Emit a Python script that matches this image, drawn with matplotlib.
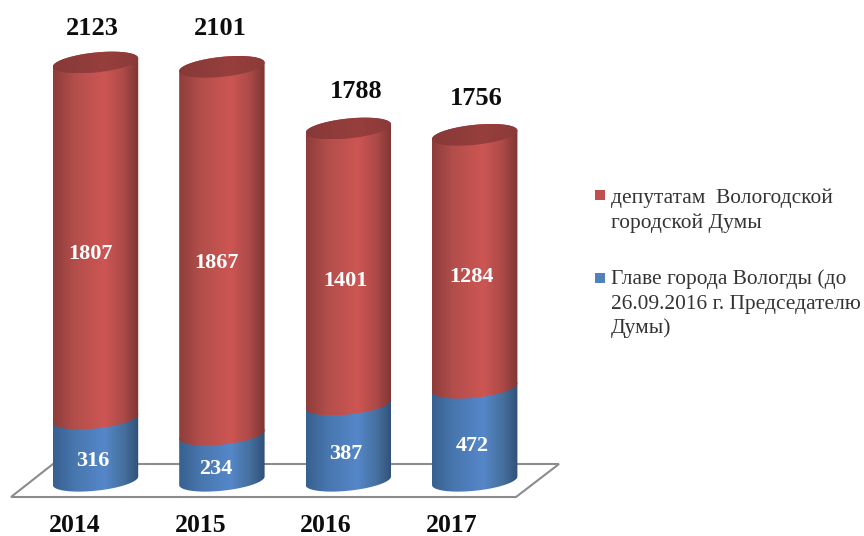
#!/usr/bin/env python
import numpy as np
import matplotlib
matplotlib.use("Agg")
import matplotlib.pyplot as plt
from matplotlib.colors import LinearSegmentedColormap
from matplotlib.patches import Polygon, Rectangle

years = ["2014", "2015", "2016", "2017"]
glava = [316, 234, 387, 472]
deputaty = [1807, 1867, 1401, 1284]
totals = [2123, 2101, 1788, 1756]

W, H = 864, 536
DPI = 100
STEP = 126.4       # px between bars
X0 = 95.5          # px centre of first bar
Y0 = 480.75        # px of value 0
K = 0.197          # px per unit
HALF = 42.7 / STEP # half width of a cylinder in x units
SHEAR = 4.25 / K
B = 10.0 / K

red_cm = LinearSegmentedColormap.from_list("r", [(0, "#8e3d3b"), (0.25, "#b34e4b"), (0.6, "#cd5653"), (0.82, "#ad4a48"), (1, "#7e3634")])
blue_cm = LinearSegmentedColormap.from_list("b", [(0, "#36608f"), (0.25, "#4876ae"), (0.6, "#5587c9"), (0.82, "#46719f"), (1, "#2f5179")])
cap_cm = LinearSegmentedColormap.from_list("c", [(0, "#863938"), (0.6, "#973f3d"), (1, "#8b3a39")])
grad = np.linspace(0, 1, 128).reshape(1, -1)

fig = plt.figure(figsize=(W / DPI, H / DPI), dpi=DPI)
ax = fig.add_axes([0, 0, 1, 1])
ax.axis("off")
plt.rcParams["font.family"] = "Liberation Serif"


def px(x, y):
    return (x - X0) / STEP, (Y0 - y) / K


def arc(i, v, t0, t1):
    t = np.linspace(t0, t1, 60)
    return np.c_[i + HALF * np.cos(t), v + SHEAR * np.cos(t) + B * np.sin(t)]


def fill(poly, i, cmap, z):
    ymin, ymax = poly[:, 1].min(), poly[:, 1].max()
    im = ax.imshow(grad, cmap=cmap, aspect="auto", zorder=z, vmin=0, vmax=1,
                   extent=(i - HALF, i + HALF, ymin, ymax), interpolation="bilinear")
    im.set_clip_path(Polygon(poly, closed=True, transform=ax.transData))


# floor
floor = [px(11, 497), px(516, 497), px(559, 464), px(53, 464)]
ax.add_patch(Polygon(floor, closed=True, facecolor="white", edgecolor="#8c8c8c", linewidth=1.5, zorder=1))

# label nudges, px
blue_dx = [-3, -6, -3, -2]
blue_dy = [-11, -11, -11, -12]
red_dx = [-5, -5, -3, -3]
red_dy = [-13, -12, -14, -16]

for i in range(len(years)):
    g, d = glava[i], deputaty[i]
    # blue part, front arc below, back arc on top
    poly = np.r_[arc(i, 0, np.pi, 2 * np.pi), arc(i, g, 0, np.pi)]
    fill(poly, i, blue_cm, 2 + i * 0.1)
    top = g + d
    poly = np.r_[arc(i, g, np.pi, 2 * np.pi), arc(i, top, 0, np.pi)]
    fill(poly, i, red_cm, 2.01 + i * 0.1)
    poly = arc(i, top, 0, 2 * np.pi)
    fill(poly, i, cap_cm, 2.02 + i * 0.1)

    ax.annotate(str(g), (i, g / 2), xytext=(blue_dx[i], blue_dy[i]), textcoords="offset pixels", ha="center", va="center",
                color="white", fontsize=16, fontweight="bold", zorder=5)
    ax.annotate(str(d), (i, g + d / 2), xytext=(red_dx[i], red_dy[i]), textcoords="offset pixels", ha="center", va="center",
                color="white", fontsize=16, fontweight="bold", zorder=5)

total_dx = [-3.5, -2, 8, 2]
total_dy = [34, 38, 37, 36]
for i, t in enumerate(totals):
    ax.annotate(str(t), (i, t), xytext=(total_dx[i], total_dy[i]), textcoords="offset pixels", ha="center", va="center",
                color="#0d0d0d", fontsize=19, fontweight="bold", zorder=5)

for i, y in enumerate(years):
    x, yy = px(75 + 125.5 * i, 525)
    ax.text(x, yy, y, ha="center", va="center", color="#0d0d0d", fontsize=18.5, fontweight="bold")

ax.set_xlim(px(0, 0)[0], px(W, 0)[0])
ax.set_ylim(px(0, H)[1], px(0, 0)[1])

# legend
legend_items = [
    ("#c0504d", 195, ["депутатам  Вологодской", "городской Думы"], [198, 223]),
    ("#4f81bd", 278, ["Главе города Вологды (до", "26.09.2016 г. Председателю", "Думы)"], [279, 304, 328]),
]
for color, sy, lines, ys in legend_items:
    fig.patches.append(Rectangle((595 / W, 1 - (sy + 5) / H), 10 / W, 10 / H, transform=fig.transFigure,
                                 facecolor=color, edgecolor="none"))
    for line, ly in zip(lines, ys):
        fig.text(611 / W, 1 - ly / H, line, ha="left", va="center", color="#333333", fontsize=15.4)

fig.savefig("out.png", dpi=DPI)
